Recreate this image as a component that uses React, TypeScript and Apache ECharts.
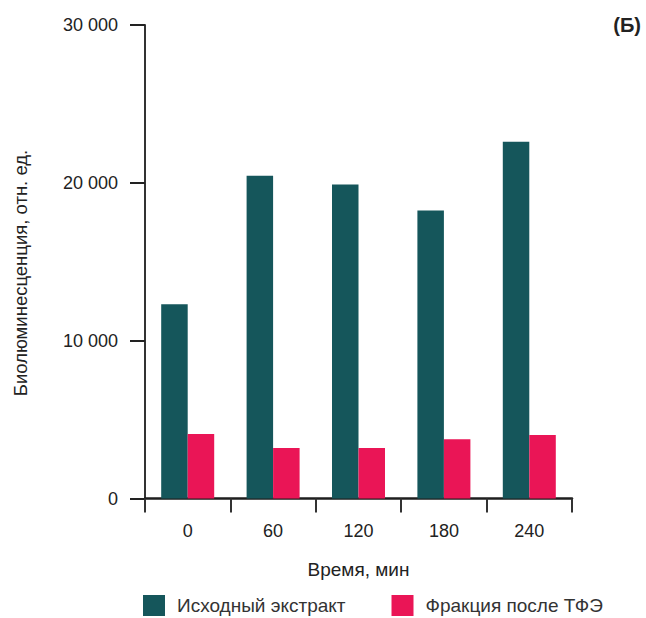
import React, { useEffect, useRef } from "react";
import * as echarts from "echarts";

const categories = ["0", "60", "120", "180", "240"];
const extractValues = [12300, 20450, 19900, 18240, 22600];
const tfeValues = [4080, 3200, 3200, 3760, 4020];
const seriesNames = ["Исходный экстракт", "Фракция после ТФЭ"];
const yTicks = { min: 0, max: 30000, interval: 10000 };

const FONT = "'Liberation Sans', Arial, Helvetica, sans-serif";

export default function App() {
  const ref = useRef<HTMLDivElement>(null);
  useEffect(() => {
    if (!ref.current) return;
    const chart = echarts.init(ref.current, null, { renderer: "svg" });
    chart.setOption({
      animation: false,
      backgroundColor: "#ffffff",
      textStyle: { fontFamily: FONT },
      grid: { left: 145, right: 74, top: 25, bottom: 119.5, containLabel: false },
      legend: {
        left: 143,
        top: 595,
        padding: 0,
        itemWidth: 22,
        itemHeight: 21,
        itemGap: 46,
        icon: "rect",
        textStyle: {
          fontSize: 19,
          lineHeight: 20,
          color: "#333",
          fontFamily: FONT,
          padding: [0, 0, 0, 7],
        },
        data: seriesNames,
      },
      xAxis: {
        type: "category",
        data: categories,
        name: "Время, мин",
        nameLocation: "middle",
        nameGap: 61,
        nameTextStyle: { fontSize: 19, color: "#222", fontFamily: FONT, verticalAlign: "top" },
        axisLine: { lineStyle: { color: "#1e1e1e", width: 2.5 } },
        axisTick: { show: true, length: 14, lineStyle: { color: "#333", width: 2 }, alignWithLabel: false },
        axisLabel: { fontSize: 18, color: "#222", margin: 23, fontFamily: FONT },
      },
      yAxis: {
        type: "value",
        min: yTicks.min,
        max: yTicks.max,
        interval: yTicks.interval,
        axisLine: { show: true, lineStyle: { color: "#333", width: 2 } },
        axisTick: { show: true, length: 15, lineStyle: { color: "#222", width: 2 } },
        splitLine: { show: false },
        axisLabel: {
          fontSize: 18,
          color: "#222",
          margin: 27,
          fontFamily: FONT,
          formatter: (v: number) => String(v).replace(/\B(?=(\d{3})+(?!\d))/g, " "),
        },
      },
      series: [
        {
          name: seriesNames[0],
          type: "bar",
          data: extractValues,
          barWidth: 26.5,
          barGap: "0%",
          itemStyle: { color: "#15565b" },
        },
        {
          name: seriesNames[1],
          type: "bar",
          data: tfeValues,
          barWidth: 26.5,
          barGap: "0%",
          itemStyle: { color: "#ea1556" },
        },
      ],
      graphic: [
        {
          type: "text",
          x: 20,
          y: 273,
          rotation: Math.PI / 2,
          style: {
            text: "Биолюминесценция, отн. ед.",
            fontSize: 18.5,
            fontFamily: FONT,
            fill: "#222",
            align: "center",
            verticalAlign: "middle",
          },
        },
        {
          type: "text",
          x: 641,
          y: 25,
          style: {
            text: "(Б)",
            fontSize: 20,
            fontWeight: "bold",
            fontFamily: FONT,
            fill: "#222",
            align: "right",
            verticalAlign: "middle",
          },
        },
      ],
    });
    return () => chart.dispose();
  }, []);
  return <div ref={ref} style={{ width: 646, height: 618, position: "absolute", left: 0, top: 0 }} />;
}
